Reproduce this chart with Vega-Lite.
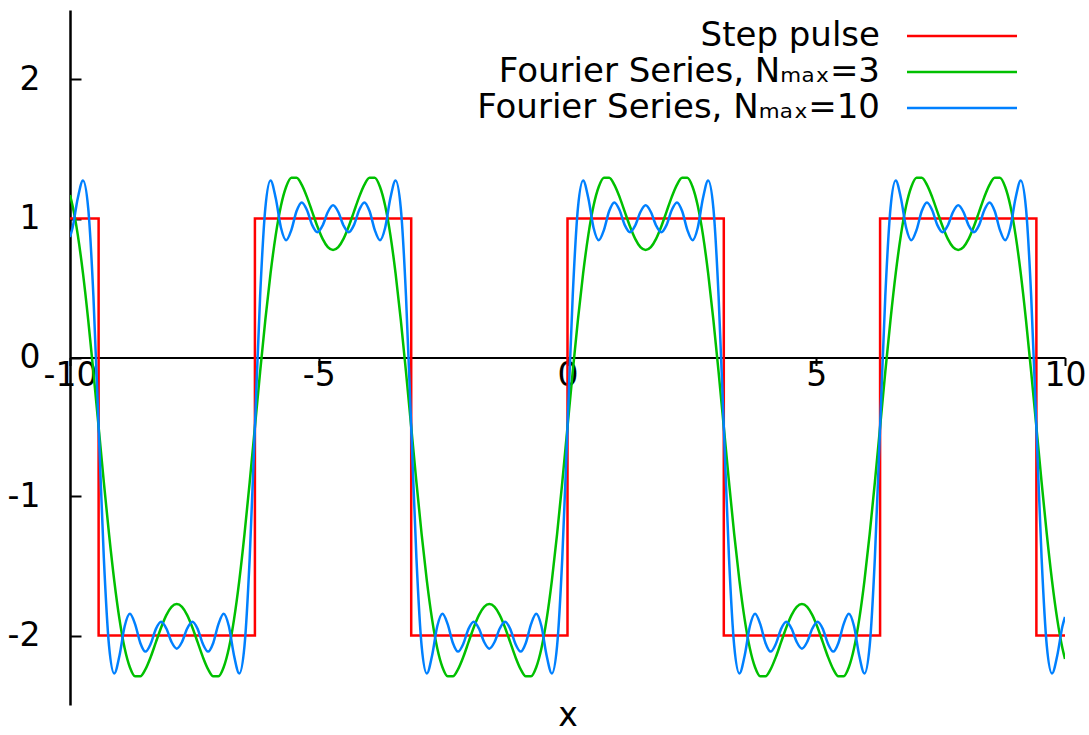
{
"$schema": "https://vega.github.io/schema/vega-lite/v6.json",
"width": 995,
"height": 695,
"autosize": {"type": "none"},
"padding": {"left": 70, "top": 10, "right": 24, "bottom": 30},
"background": "white",
"config": {"view": {"stroke": null}, "font": "DejaVu Sans"},
"datasets": {
"step": [
{"i":0,"x":-10,"y":1},{"i":1,"x":-9.4248,"y":1},{"i":2,"x":-9.4248,"y":-2},{"i":3,"x":-6.2832,"y":-2},{"i":4,"x":-6.2832,"y":1},{"i":5,"x":-3.1416,"y":1},{"i":6,"x":-3.1416,"y":-2},{"i":7,"x":0,"y":-2},{"i":8,"x":0,"y":1},{"i":9,"x":3.1416,"y":1},{"i":10,"x":3.1416,"y":-2},{"i":11,"x":6.2832,"y":-2},{"i":12,"x":6.2832,"y":1},{"i":13,"x":9.4248,"y":1},{"i":14,"x":9.4248,"y":-2},{"i":15,"x":10,"y":-2}
],
"fs": [
{"x":-10,"g":1.1685,"b":0.8667},
{"x":-9.9484,"g":1.0916,"b":0.9339},
{"x":-9.8437,"g":0.8823,"b":1.1451},
{"x":-9.7389,"g":0.6052,"b":1.2735},
{"x":-9.6342,"g":0.2713,"b":1.0752},
{"x":-9.5295,"g":-0.1036,"b":0.4416},
{"x":-9.4248,"g":-0.5,"b":-0.5},
{"x":-9.3201,"g":-0.8964,"b":-1.4416},
{"x":-9.2153,"g":-1.2713,"b":-2.0752},
{"x":-9.1106,"g":-1.6052,"b":-2.2735},
{"x":-9.0059,"g":-1.8823,"b":-2.1451},
{"x":-8.9012,"g":-2.0916,"b":-1.9339},
{"x":-8.7965,"g":-2.2281,"b":-1.8438},
{"x":-8.6917,"g":-2.293,"b":-1.9183},
{"x":-8.587,"g":-2.2935,"b":-2.0535},
{"x":-8.4823,"g":-2.2419,"b":-2.1159},
{"x":-8.3776,"g":-2.154,"b":-2.0595},
{"x":-8.2729,"g":-2.048,"b":-1.9522},
{"x":-8.1681,"g":-1.9422,"b":-1.9008},
{"x":-8.0634,"g":-1.8531,"b":-1.95},
{"x":-7.9587,"g":-1.7939,"b":-2.0467},
{"x":-7.854,"g":-1.7732,"b":-2.0946},
{"x":-7.7493,"g":-1.7939,"b":-2.0467},
{"x":-7.6445,"g":-1.8531,"b":-1.95},
{"x":-7.5398,"g":-1.9422,"b":-1.9008},
{"x":-7.4351,"g":-2.048,"b":-1.9522},
{"x":-7.3304,"g":-2.154,"b":-2.0595},
{"x":-7.2257,"g":-2.2419,"b":-2.1159},
{"x":-7.1209,"g":-2.2935,"b":-2.0535},
{"x":-7.0162,"g":-2.293,"b":-1.9183},
{"x":-6.9115,"g":-2.2281,"b":-1.8438},
{"x":-6.8068,"g":-2.0916,"b":-1.9339},
{"x":-6.7021,"g":-1.8823,"b":-2.1451},
{"x":-6.5973,"g":-1.6052,"b":-2.2735},
{"x":-6.4926,"g":-1.2713,"b":-2.0752},
{"x":-6.3879,"g":-0.8964,"b":-1.4416},
{"x":-6.2832,"g":-0.5,"b":-0.5},
{"x":-6.1785,"g":-0.1036,"b":0.4416},
{"x":-6.0737,"g":0.2713,"b":1.0752},
{"x":-5.969,"g":0.6052,"b":1.2735},
{"x":-5.8643,"g":0.8823,"b":1.1451},
{"x":-5.7596,"g":1.0916,"b":0.9339},
{"x":-5.6549,"g":1.2281,"b":0.8438},
{"x":-5.5501,"g":1.293,"b":0.9183},
{"x":-5.4454,"g":1.2935,"b":1.0535},
{"x":-5.3407,"g":1.2419,"b":1.1159},
{"x":-5.236,"g":1.154,"b":1.0595},
{"x":-5.1313,"g":1.048,"b":0.9522},
{"x":-5.0265,"g":0.9422,"b":0.9008},
{"x":-4.9218,"g":0.8531,"b":0.95},
{"x":-4.8171,"g":0.7939,"b":1.0467},
{"x":-4.7124,"g":0.7732,"b":1.0946},
{"x":-4.6077,"g":0.7939,"b":1.0467},
{"x":-4.5029,"g":0.8531,"b":0.95},
{"x":-4.3982,"g":0.9422,"b":0.9008},
{"x":-4.2935,"g":1.048,"b":0.9522},
{"x":-4.1888,"g":1.154,"b":1.0595},
{"x":-4.0841,"g":1.2419,"b":1.1159},
{"x":-3.9794,"g":1.2935,"b":1.0535},
{"x":-3.8746,"g":1.293,"b":0.9183},
{"x":-3.7699,"g":1.2281,"b":0.8438},
{"x":-3.6652,"g":1.0916,"b":0.9339},
{"x":-3.5605,"g":0.8823,"b":1.1451},
{"x":-3.4558,"g":0.6052,"b":1.2735},
{"x":-3.351,"g":0.2713,"b":1.0752},
{"x":-3.2463,"g":-0.1036,"b":0.4416},
{"x":-3.1416,"g":-0.5,"b":-0.5},
{"x":-3.0369,"g":-0.8964,"b":-1.4416},
{"x":-2.9322,"g":-1.2713,"b":-2.0752},
{"x":-2.8274,"g":-1.6052,"b":-2.2735},
{"x":-2.7227,"g":-1.8823,"b":-2.1451},
{"x":-2.618,"g":-2.0916,"b":-1.9339},
{"x":-2.5133,"g":-2.2281,"b":-1.8438},
{"x":-2.4086,"g":-2.293,"b":-1.9183},
{"x":-2.3038,"g":-2.2935,"b":-2.0535},
{"x":-2.1991,"g":-2.2419,"b":-2.1159},
{"x":-2.0944,"g":-2.154,"b":-2.0595},
{"x":-1.9897,"g":-2.048,"b":-1.9522},
{"x":-1.885,"g":-1.9422,"b":-1.9008},
{"x":-1.7802,"g":-1.8531,"b":-1.95},
{"x":-1.6755,"g":-1.7939,"b":-2.0467},
{"x":-1.5708,"g":-1.7732,"b":-2.0946},
{"x":-1.4661,"g":-1.7939,"b":-2.0467},
{"x":-1.3614,"g":-1.8531,"b":-1.95},
{"x":-1.2566,"g":-1.9422,"b":-1.9008},
{"x":-1.1519,"g":-2.048,"b":-1.9522},
{"x":-1.0472,"g":-2.154,"b":-2.0595},
{"x":-0.9425,"g":-2.2419,"b":-2.1159},
{"x":-0.8378,"g":-2.2935,"b":-2.0535},
{"x":-0.733,"g":-2.293,"b":-1.9183},
{"x":-0.6283,"g":-2.2281,"b":-1.8438},
{"x":-0.5236,"g":-2.0916,"b":-1.9339},
{"x":-0.4189,"g":-1.8823,"b":-2.1451},
{"x":-0.3142,"g":-1.6052,"b":-2.2735},
{"x":-0.2094,"g":-1.2713,"b":-2.0752},
{"x":-0.1047,"g":-0.8964,"b":-1.4416},
{"x":0,"g":-0.5,"b":-0.5},
{"x":0.1047,"g":-0.1036,"b":0.4416},
{"x":0.2094,"g":0.2713,"b":1.0752},
{"x":0.3142,"g":0.6052,"b":1.2735},
{"x":0.4189,"g":0.8823,"b":1.1451},
{"x":0.5236,"g":1.0916,"b":0.9339},
{"x":0.6283,"g":1.2281,"b":0.8438},
{"x":0.733,"g":1.293,"b":0.9183},
{"x":0.8378,"g":1.2935,"b":1.0535},
{"x":0.9425,"g":1.2419,"b":1.1159},
{"x":1.0472,"g":1.154,"b":1.0595},
{"x":1.1519,"g":1.048,"b":0.9522},
{"x":1.2566,"g":0.9422,"b":0.9008},
{"x":1.3614,"g":0.8531,"b":0.95},
{"x":1.4661,"g":0.7939,"b":1.0467},
{"x":1.5708,"g":0.7732,"b":1.0946},
{"x":1.6755,"g":0.7939,"b":1.0467},
{"x":1.7802,"g":0.8531,"b":0.95},
{"x":1.885,"g":0.9422,"b":0.9008},
{"x":1.9897,"g":1.048,"b":0.9522},
{"x":2.0944,"g":1.154,"b":1.0595},
{"x":2.1991,"g":1.2419,"b":1.1159},
{"x":2.3038,"g":1.2935,"b":1.0535},
{"x":2.4086,"g":1.293,"b":0.9183},
{"x":2.5133,"g":1.2281,"b":0.8438},
{"x":2.618,"g":1.0916,"b":0.9339},
{"x":2.7227,"g":0.8823,"b":1.1451},
{"x":2.8274,"g":0.6052,"b":1.2735},
{"x":2.9322,"g":0.2713,"b":1.0752},
{"x":3.0369,"g":-0.1036,"b":0.4416},
{"x":3.1416,"g":-0.5,"b":-0.5},
{"x":3.2463,"g":-0.8964,"b":-1.4416},
{"x":3.351,"g":-1.2713,"b":-2.0752},
{"x":3.4558,"g":-1.6052,"b":-2.2735},
{"x":3.5605,"g":-1.8823,"b":-2.1451},
{"x":3.6652,"g":-2.0916,"b":-1.9339},
{"x":3.7699,"g":-2.2281,"b":-1.8438},
{"x":3.8746,"g":-2.293,"b":-1.9183},
{"x":3.9794,"g":-2.2935,"b":-2.0535},
{"x":4.0841,"g":-2.2419,"b":-2.1159},
{"x":4.1888,"g":-2.154,"b":-2.0595},
{"x":4.2935,"g":-2.048,"b":-1.9522},
{"x":4.3982,"g":-1.9422,"b":-1.9008},
{"x":4.5029,"g":-1.8531,"b":-1.95},
{"x":4.6077,"g":-1.7939,"b":-2.0467},
{"x":4.7124,"g":-1.7732,"b":-2.0946},
{"x":4.8171,"g":-1.7939,"b":-2.0467},
{"x":4.9218,"g":-1.8531,"b":-1.95},
{"x":5.0265,"g":-1.9422,"b":-1.9008},
{"x":5.1313,"g":-2.048,"b":-1.9522},
{"x":5.236,"g":-2.154,"b":-2.0595},
{"x":5.3407,"g":-2.2419,"b":-2.1159},
{"x":5.4454,"g":-2.2935,"b":-2.0535},
{"x":5.5501,"g":-2.293,"b":-1.9183},
{"x":5.6549,"g":-2.2281,"b":-1.8438},
{"x":5.7596,"g":-2.0916,"b":-1.9339},
{"x":5.8643,"g":-1.8823,"b":-2.1451},
{"x":5.969,"g":-1.6052,"b":-2.2735},
{"x":6.0737,"g":-1.2713,"b":-2.0752},
{"x":6.1785,"g":-0.8964,"b":-1.4416},
{"x":6.2832,"g":-0.5,"b":-0.5},
{"x":6.3879,"g":-0.1036,"b":0.4416},
{"x":6.4926,"g":0.2713,"b":1.0752},
{"x":6.5973,"g":0.6052,"b":1.2735},
{"x":6.7021,"g":0.8823,"b":1.1451},
{"x":6.8068,"g":1.0916,"b":0.9339},
{"x":6.9115,"g":1.2281,"b":0.8438},
{"x":7.0162,"g":1.293,"b":0.9183},
{"x":7.1209,"g":1.2935,"b":1.0535},
{"x":7.2257,"g":1.2419,"b":1.1159},
{"x":7.3304,"g":1.154,"b":1.0595},
{"x":7.4351,"g":1.048,"b":0.9522},
{"x":7.5398,"g":0.9422,"b":0.9008},
{"x":7.6445,"g":0.8531,"b":0.95},
{"x":7.7493,"g":0.7939,"b":1.0467},
{"x":7.854,"g":0.7732,"b":1.0946},
{"x":7.9587,"g":0.7939,"b":1.0467},
{"x":8.0634,"g":0.8531,"b":0.95},
{"x":8.1681,"g":0.9422,"b":0.9008},
{"x":8.2729,"g":1.048,"b":0.9522},
{"x":8.3776,"g":1.154,"b":1.0595},
{"x":8.4823,"g":1.2419,"b":1.1159},
{"x":8.587,"g":1.2935,"b":1.0535},
{"x":8.6917,"g":1.293,"b":0.9183},
{"x":8.7965,"g":1.2281,"b":0.8438},
{"x":8.9012,"g":1.0916,"b":0.9339},
{"x":9.0059,"g":0.8823,"b":1.1451},
{"x":9.1106,"g":0.6052,"b":1.2735},
{"x":9.2153,"g":0.2713,"b":1.0752},
{"x":9.3201,"g":-0.1036,"b":0.4416},
{"x":9.4248,"g":-0.5,"b":-0.5},
{"x":9.5295,"g":-0.8964,"b":-1.4416},
{"x":9.6342,"g":-1.2713,"b":-2.0752},
{"x":9.7389,"g":-1.6052,"b":-2.2735},
{"x":9.8437,"g":-1.8823,"b":-2.1451},
{"x":9.9484,"g":-2.0916,"b":-1.9339},
{"x":10,"g":-2.1685,"b":-1.8667}
]
},
"layer": [
{
"data": {"name": "step"},
"mark": {"type": "line", "strokeWidth": 2.5, "clip": true},
"encoding": {
"x": {"field": "x", "type": "quantitative",
"scale": {"domain": [-10, 10], "nice": false, "zero": false},
"axis": {"orient": "bottom", "offset": -347.5, "values": [-10, -5, 0, 5, 10], "title": "x", "grid": false,
"labelExpr": "'' + datum.value",
"domainColor": "#000", "domainWidth": 2, "tickColor": "#000", "tickWidth": 2, "tickSize": 8,
"labelPadding": -6, "labelFontSize": 33, "labelColor": "#000", "labelFont": "DejaVu Sans", "labelFlush": false, "labelOverlap": false,
"titleFontSize": 33, "titleFontWeight": "normal", "titleColor": "#000", "titleFont": "DejaVu Sans", "titleY": 358, "titleBaseline": "middle"}},
"y": {"field": "y", "type": "quantitative",
"scale": {"domain": [-2.5, 2.5], "nice": false, "zero": false},
"axis": {"orient": "left", "values": [-2, -1, 0, 1, 2], "title": null, "grid": false,
"labelExpr": "'' + datum.value",
"domainColor": "#000", "domainWidth": 2.5, "tickColor": "#000", "tickWidth": 2, "tickSize": -11,
"labelPadding": 41, "labelFontSize": 33, "labelColor": "#000", "labelFont": "DejaVu Sans", "labelFlush": false}},
"order": {"field": "i", "type": "quantitative"},
"color": {"datum": "step", "type": "nominal",
"scale": {"domain": ["step", "n3", "n10"], "range": ["#ff0000", "#00c000", "#0080ff"]},
"legend": {"orient": "none", "legendX": 875, "legendY": 9, "title": null,
"symbolType": "M-5,0H5", "symbolSize": 484, "symbolStrokeWidth": 2.5,
"labelAlign": "right", "labelOffset": -99, "labelFontSize": 34, "labelFont": "DejaVu Sans", "labelColor": "#000", "labelLimit": 2000,
"rowPadding": 2,
"labelExpr": "datum.label == 'step' ? 'Step pulse' : datum.label == 'n3' ? 'Fourier Series, Nₘₐₓ=3' : 'Fourier Series, Nₘₐₓ=10'"}}
}
},
{
"data": {"name": "fs"},
"mark": {"type": "line", "strokeWidth": 2.5, "interpolate": "monotone", "clip": true},
"encoding": {
"x": {"field": "x", "type": "quantitative"},
"y": {"field": "g", "type": "quantitative"},
"color": {"datum": "n3", "type": "nominal"}
}
},
{
"data": {"name": "fs"},
"mark": {"type": "line", "strokeWidth": 2.5, "interpolate": "monotone", "clip": true},
"encoding": {
"x": {"field": "x", "type": "quantitative"},
"y": {"field": "b", "type": "quantitative"},
"color": {"datum": "n10", "type": "nominal"}
}
}
]
}
